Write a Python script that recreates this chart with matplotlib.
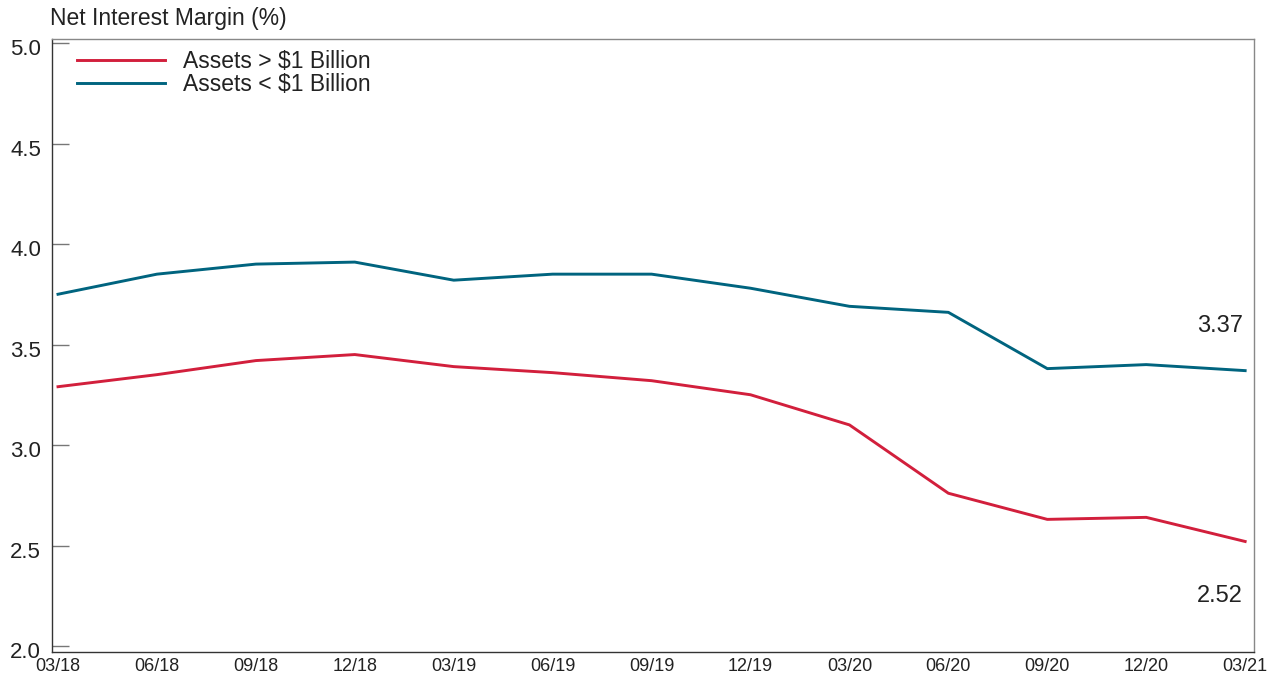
import matplotlib
matplotlib.use("Agg")
import matplotlib.pyplot as plt
import matplotlib.transforms as mtransforms

plt.rcParams['font.family'] = ['Liberation Sans', 'DejaVu Sans']

quarters = ["03/18", "06/18", "09/18", "12/18", "03/19", "06/19", "09/19",
            "12/19", "03/20", "06/20", "09/20", "12/20", "03/21"]
large_banks = [3.29, 3.35, 3.42, 3.45, 3.39, 3.36, 3.32, 3.25, 3.10, 2.76, 2.63, 2.64, 2.52]
small_banks = [3.75, 3.85, 3.90, 3.91, 3.82, 3.85, 3.85, 3.78, 3.69, 3.66, 3.38, 3.40, 3.37]
y_ticks = [2.0, 2.5, 3.0, 3.5, 4.0, 4.5, 5.0]

red = "#D21F3C"
blue = "#00647F"
txt = "#222222"

fig = plt.figure(figsize=(12.76, 6.78), dpi=100)
ax = fig.add_axes([0.0408, 0.0383, 0.942, 0.9042])

x = list(range(len(quarters)))
ax.plot(x, large_banks, color=red, lw=2.1, label="Assets > $1 Billion", solid_joinstyle='round')
ax.plot(x, small_banks, color=blue, lw=2.1, label="Assets < $1 Billion", solid_joinstyle='round')

ax.set_xlim(-0.06, 12.09)
ax.set_ylim(1.97, 5.02)
ax.set_yticks(y_ticks)
ax.set_yticklabels([f"{v:.1f}" for v in y_ticks], fontsize=16, color=txt)
ax.set_xticks(x)
ax.set_xticklabels(quarters, fontsize=13, color=txt)
ax.tick_params(axis='y', direction='in', length=12, width=1, color="#777777", pad=8)
ax.tick_params(axis='x', length=0, pad=4)
offset = mtransforms.ScaledTranslation(0, -4/100, fig.dpi_scale_trans)
for lab in ax.get_yticklabels():
    lab.set_transform(lab.get_transform() + offset)

for side in ['top', 'right']:
    ax.spines[side].set_color("#888888")
for side in ['left', 'bottom']:
    ax.spines[side].set_color("#333333")
for s in ax.spines.values():
    s.set_linewidth(1)

ax.text(11.98, small_banks[-1] + 0.22, f"{small_banks[-1]:.2f}", ha='right', va='center',
        fontsize=17, color=txt)
ax.text(11.98, large_banks[-1] - 0.27, f"{large_banks[-1]:.2f}", ha='right', va='center',
        fontsize=17, color=txt)

fig.text(50/1276, 1 - 18/678, "Net Interest Margin (%)", fontsize=16.5, ha='left', va='center',
         color=txt)

leg = ax.legend(loc='upper left', bbox_to_anchor=(0.009, 1.004), frameon=False, fontsize=16.5,
                handlelength=3.85, handletextpad=0.8, labelspacing=0.0, borderaxespad=0.1,
                borderpad=0.5)
for t in leg.get_texts():
    t.set_color(txt)

fig.savefig("out.png", dpi=100)
